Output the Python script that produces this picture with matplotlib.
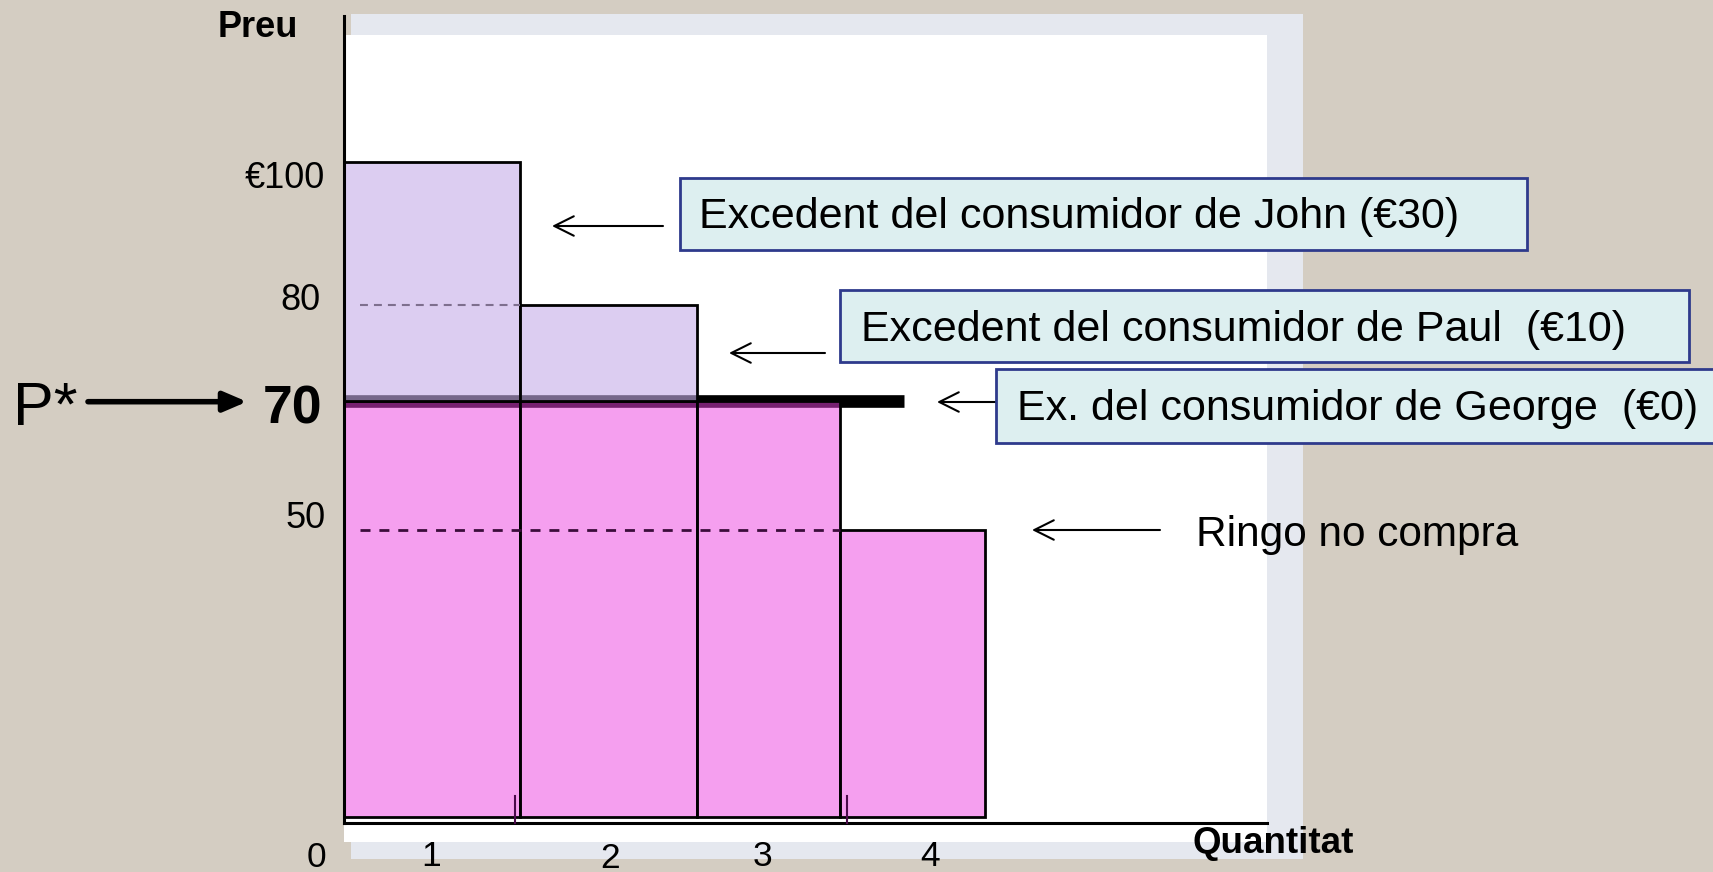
import numpy as np
import matplotlib
matplotlib.use("Agg")
import matplotlib.pyplot as plt
from matplotlib.patches import Rectangle

# --- data -------------------------------------------------------------
buyers = ["John", "Paul", "George", "Ringo"]
willingness = [100, 80, 70, 50]          # willingness to pay
price = 70                               # market price P*
quantity_labels = ["1", "2", "3", "4"]
price_ticks = [100, 80, 70, 50]
price_tick_labels = ["€100", "80", "70", "50"]
surplus_texts = ["Excedent del consumidor de John (€30)",
                 "Excedent del consumidor de Paul  (€10)",
                 "Ex. del consumidor de George  (€0)"]
ringo_text = "Ringo no compra"

# --- layout / style ---------------------------------------------------
W, H = 1713, 872
BG = "#D4CDC2"
PINK = (0.93, 0.25, 0.88, 0.5)
LILAC = (0.776, 0.678, 0.91, 0.6)
BOX_FC = "#DDEFF0"
BOX_EC = "#2E3A8C"

# the slide is schematic, so both axes use piecewise linear scales (value -> pixel)
X_KNOTS = [-1, 0, 1, 2, 3, 4, 8]
X_PIX = [168, 344, 520, 697, 840, 985, 1565]
Y_KNOTS = [-10, 0, 50, 70, 80, 100, 140]
Y_PIX = [-2.4, 55, 342, 471, 567, 710.3, 996.9]


def fx(v):
    return np.interp(v, X_KNOTS, X_PIX)


def fx_inv(p):
    return np.interp(p, X_PIX, X_KNOTS)


def fy(v):
    return np.interp(v, Y_KNOTS, Y_PIX)


def fy_inv(p):
    return np.interp(p, Y_PIX, Y_KNOTS)


def fxy(x, y):
    # pixel (from top-left) -> figure fraction
    return x / W, 1 - y / H


plt.rcParams["font.family"] = ["Liberation Sans", "DejaVu Sans"]

fig = plt.figure(figsize=(W / 100, H / 100), dpi=100, facecolor=BG)

# slide panel behind the chart
x0, y0 = fxy(351, 859)
fig.add_artist(Rectangle((x0, y0), (1303 - 351) / W, (859 - 14) / H,
                         transform=fig.transFigure, fc="#E5E8EF", ec="none", zorder=-2))
x0, y0 = fxy(344, 842)
fig.add_artist(Rectangle((x0, y0), (1267 - 344) / W, (842 - 35) / H,
                         transform=fig.transFigure, fc="white", ec="none", zorder=-1))

ax = fig.add_axes([344 / W, 49 / H, (1267 - 344) / W, (856 - 49) / H])
ax.set_facecolor("none")
ax.set_xscale("function", functions=(fx, fx_inv))
ax.set_yscale("function", functions=(fy, fy_inv))
ax.set_xlim(0, float(fx_inv(1267)))
ax.set_ylim(float(fy_inv(49)), float(fy_inv(856)))
for s in ["top", "right"]:
    ax.spines[s].set_visible(False)
for s in ["left", "bottom"]:
    ax.spines[s].set_linewidth(2.2)
ax.set_xticks([])
ax.set_yticks([])

pos = np.arange(len(willingness))
paid = [min(v, price) for v in willingness]
surplus = [max(v - price, 0) for v in willingness]

# price line P*
ax.plot([0, 3.44], [price, price], color="black", lw=9.1,
        solid_capstyle="butt", zorder=1)

ax.bar(pos, paid, width=1, align="edge", facecolor=PINK,
       edgecolor="black", lw=2, zorder=2)
has_surplus = [i for i, s in enumerate(surplus) if s > 0]
ax.bar([pos[i] for i in has_surplus], [surplus[i] for i in has_surplus],
       bottom=price, width=1, align="edge", facecolor=LILAC,
       edgecolor="black", lw=2, zorder=2)

# dashed guide lines
ax.plot([0.09, 1], [willingness[1], willingness[1]], color="#7E6F8E",
        lw=1.5, ls=(0, (3.8, 2.9)), zorder=3)
ax.plot([0.09, 3], [willingness[3], willingness[3]], color="#3B0D3B",
        lw=2, ls=(0, (3.6, 3.2)), zorder=3)

# stray tick marks on the quantity axis
for xt in [0.97, 3.05]:
    ax.plot([xt, xt], [0, 27 / 807], color="#4A0A4A", lw=1.5,
            transform=ax.get_xaxis_transform(), clip_on=False, zorder=3)

# price labels (offset in pixels from the value)
ylab_dx = [-19.5, -23, -22, -18.5]
ylab_dy = [-26.3, -5, -22.3, 2.5]
for v, lab, dx, dy in zip(price_ticks, price_tick_labels, ylab_dx, ylab_dy):
    bold = v == price
    ax.annotate(lab, xy=(0, v), xycoords=("axes fraction", "data"),
                xytext=(dx, dy), textcoords="offset pixels",
                ha="right", va="baseline",
                fontsize=38.5 if bold else 26,
                fontweight="bold" if bold else "normal")

# quantity labels
xlab_pos = [0.497, 1.508, 2.46, 3.62]
xlab_dy = [-43, -45, -43, -43]
for xp, lab, dy in zip(xlab_pos, quantity_labels, xlab_dy):
    ax.annotate(lab, xy=(xp, 0), xycoords=("data", "axes fraction"),
                xytext=(0, dy), textcoords="offset pixels",
                ha="center", va="baseline", fontsize=25.5)
ax.annotate("0", xy=(0, 0), xycoords="axes fraction", xytext=(-27.3, -44),
            textcoords="offset pixels", ha="center", va="baseline", fontsize=25.5)

# axis titles
fig.text(*fxy(298, 37), "Preu", ha="right", va="baseline",
         fontsize=26, fontweight="bold")
fig.text(*fxy(1193, 853), "Quantitat", ha="left", va="baseline",
         fontsize=26.5, fontweight="bold")

# P* arrow
fig.text(*fxy(13, 425), "P*", ha="left", va="baseline", fontsize=44)
ax.annotate("", xy=fxy(247, 401.7), xycoords="figure fraction",
            xytext=fxy(88, 401.7), textcoords="figure fraction",
            arrowprops=dict(arrowstyle="-|>,head_length=0.7,head_width=0.3",
                            lw=4, color="black", mutation_scale=20,
                            shrinkA=0, shrinkB=0), annotation_clip=False)

# surplus boxes
boxes = [(679.5, 178, 1527, 250.5), (839.5, 290.5, 1688.5, 362), (996, 369, 1730, 443)]
text_pos = [(699, 228), (861, 341), (1017, 420)]
arrows = [(663, 552, 226), (825, 729, 353), (1016, 937, 402), (1160, 1032, 530)]

for (bx0, by0, bx1, by1), (tx, ty), txt in zip(boxes, text_pos, surplus_texts):
    fx0, fy0 = fxy(bx0, by1)
    fig.add_artist(Rectangle((fx0, fy0), (bx1 - bx0) / W, (by1 - by0) / H,
                             transform=fig.transFigure, fc=BOX_FC, ec=BOX_EC,
                             lw=2, zorder=4))
    fig.text(*fxy(tx, ty), txt, ha="left", va="baseline", fontsize=31, zorder=5)

fig.text(*fxy(1196, 546), ringo_text, ha="left", va="baseline", fontsize=30.5)

for tail, tip, yy in arrows:
    ax.annotate("", xy=fxy(tip, yy), xycoords="figure fraction",
                xytext=fxy(tail, yy), textcoords="figure fraction",
                arrowprops=dict(arrowstyle="->,head_length=0.5,head_width=0.25",
                                lw=1.5, color="black", mutation_scale=28,
                                shrinkA=0, shrinkB=0), annotation_clip=False)

fig.savefig("out.png", dpi=100, facecolor=BG)
